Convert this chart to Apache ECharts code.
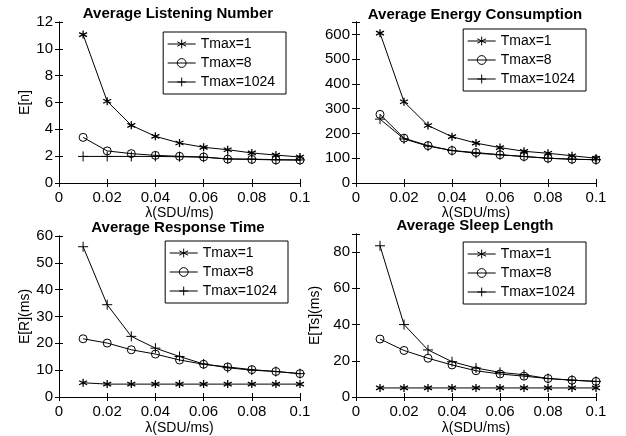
<!DOCTYPE html>
<html>
<head>
<meta charset="utf-8">
<script src="https://cdn.jsdelivr.net/npm/echarts@6/dist/echarts.min.js"></script>
<style>html,body{margin:0;padding:0;background:#fff;}#c{width:626px;height:436px;}</style>
</head>
<body>
<div id="c"></div>
<script>
const lambda = [0.01, 0.02, 0.03, 0.04, 0.05, 0.06, 0.07, 0.08, 0.09, 0.1];
const seriesNames = ['Tmax=1', 'Tmax=8', 'Tmax=1024'];
const titles = ['Average Listening Number', 'Average Energy Consumption', 'Average Response Time', 'Average Sleep Length'];
const yNames = ['E[n]', '', 'E[R](ms)', 'E[Ts](ms)'];
const xName = 'λ(SDU/ms)';

const listenT1 = [11.06, 6.09, 4.30, 3.48, 2.98, 2.66, 2.48, 2.24, 2.08, 1.94];
const listenT8 = [3.40, 2.39, 2.19, 2.06, 1.99, 1.94, 1.78, 1.76, 1.72, 1.71];
const listenT1024 = [1.98, 1.98, 1.98, 1.98, 1.96, 1.92, 1.80, 1.78, 1.74, 1.72];

const energyT1 = [605, 328, 232, 187, 161, 143, 128, 120, 110, 100];
const energyT8 = [277, 181, 151, 131, 123, 114, 107, 100, 96, 94];
const energyT1024 = [258, 178, 149, 131, 120, 114, 107, 100, 96, 94];

const respT1 = [5.3, 4.8, 4.8, 4.8, 4.8, 4.8, 4.8, 4.8, 4.8, 4.8];
const respT8 = [21.7, 20.1, 17.6, 16.0, 13.8, 12.2, 11.2, 10.2, 9.5, 8.7];
const respT1024 = [56.0, 34.4, 22.6, 18.2, 15.1, 12.3, 10.9, 10.0, 9.5, 8.7];

const sleepT1 = [5.0, 5.0, 5.0, 5.0, 5.0, 5.0, 5.0, 5.0, 5.0, 5.0];
const sleepT8 = [32.0, 25.7, 21.4, 17.7, 14.5, 12.7, 11.5, 10.2, 9.3, 8.6];
const sleepT1024 = [83.5, 40.0, 26.0, 19.5, 16.0, 13.6, 12.3, 10.2, 9.3, 8.6];

const yMax = [12, 650, 60, 90];
const yInterval = [2, 100, 10, 20];
const panelData = [
  [listenT1, listenT8, listenT1024],
  [energyT1, energyT8, energyT1024],
  [respT1, respT8, respT1024],
  [sleepT1, sleepT8, sleepT1024]
];

const FONT = 'Liberation Sans, Arial, sans-serif';
const grids = [
  {left: 59, top: 22, width: 241, height: 161},
  {left: 356, top: 22, width: 240, height: 161},
  {left: 59, top: 236, width: 241, height: 161},
  {left: 356, top: 234, width: 240, height: 163}
];
const titleCenters = [[178, 6], [475, 7], [178, 220], [475, 218]];
const legendPos = [{right: 340, top: 32}, {right: 40, top: 29}, {right: 338, top: 241}, {right: 40, top: 242}];

const asterisk = 'path://M0,-5L0,5M-4.33,-2.5L4.33,2.5M-4.33,2.5L4.33,-2.5';
const plus = 'path://M0,-5L0,5M-5,0L5,0';
const symbols = [asterisk, 'circle', plus];
const symbolSizes = [8, 8, 10];
const symbolBorder = [1.3, 1, 1];

function fmtX(v) { return v === 0 ? '0' : String(+v.toFixed(2)); }

const xAxes = [], yAxes = [], series = [], title = [], legend = [];
grids.forEach((g, i) => {
  const axisLine = {show: true, lineStyle: {color: '#000', width: 1}};
  const tick = {show: true, inside: true, length: 4, lineStyle: {color: '#000'}};
  xAxes.push({
    type: 'value', gridIndex: i, min: 0, max: 0.1, interval: 0.02, position: 'bottom',
    axisLine, axisTick: tick, splitLine: {show: false},
    axisLabel: {formatter: fmtX, color: '#000', fontSize: 15, fontFamily: FONT, margin: 7},
    name: xName, nameLocation: 'middle', nameGap: i < 2 ? 23 : 24,
    nameTextStyle: {color: '#000', fontSize: 14, fontFamily: FONT}
  });
  xAxes.push({
    type: 'value', gridIndex: i, min: 0, max: 0.1, interval: 0.02, position: 'top',
    axisLine, axisTick: tick, splitLine: {show: false}, axisLabel: {show: false}
  });
  yAxes.push({
    type: 'value', gridIndex: i, min: 0, max: yMax[i], interval: yInterval[i], position: 'left',
    axisLine, axisTick: tick, splitLine: {show: false},
    axisLabel: {
      formatter: v => (v % yInterval[i] === 0 ? String(v) : ''),
      color: '#000', fontSize: 15, fontFamily: FONT, margin: 6
    },
    name: yNames[i], nameLocation: 'middle', nameGap: i === 3 ? 34 : 25,
    nameTextStyle: {color: '#000', fontSize: 14, fontFamily: FONT}
  });
  yAxes.push({
    type: 'value', gridIndex: i, min: 0, max: yMax[i], interval: yInterval[i], position: 'right',
    axisLine, axisTick: tick, splitLine: {show: false}, axisLabel: {show: false}
  });
  title.push({
    text: titles[i], left: titleCenters[i][0], top: titleCenters[i][1], textAlign: 'center', padding: 0,
    textStyle: {fontSize: 15, fontWeight: 'bold', color: '#000', fontFamily: FONT}
  });
  legend.push(Object.assign({
    data: seriesNames, orient: 'vertical', backgroundColor: '#fff', borderColor: '#000', borderWidth: 1,
    borderRadius: 0, padding: [5, 11, 5, 4], itemGap: 5, itemWidth: 28, itemHeight: 11,
    lineStyle: {width: 1, color: '#000'},
    itemStyle: {borderWidth: 1, borderColor: '#000', color: 'none'},
    textStyle: {color: '#000', fontSize: 14, fontFamily: FONT}, selectedMode: false
  }, legendPos[i]));
  panelData[i].forEach((arr, k) => {
    series.push({
      type: 'line', name: seriesNames[k], xAxisIndex: 2 * i, yAxisIndex: 2 * i,
      data: lambda.map((x, j) => [x, arr[j]]),
      symbol: symbols[k], symbolSize: symbolSizes[k],
      lineStyle: {color: '#000', width: 1},
      itemStyle: {color: 'none', borderColor: '#000', borderWidth: symbolBorder[k]},
      color: '#000', z: 3 - k
    });
  });
});

const chart = echarts.init(document.getElementById('c'), null, {renderer: 'canvas'});
chart.setOption({
  animation: false,
  backgroundColor: '#fff',
  title, legend, grid: grids, xAxis: xAxes, yAxis: yAxes, series
});
</script>
</body>
</html>
